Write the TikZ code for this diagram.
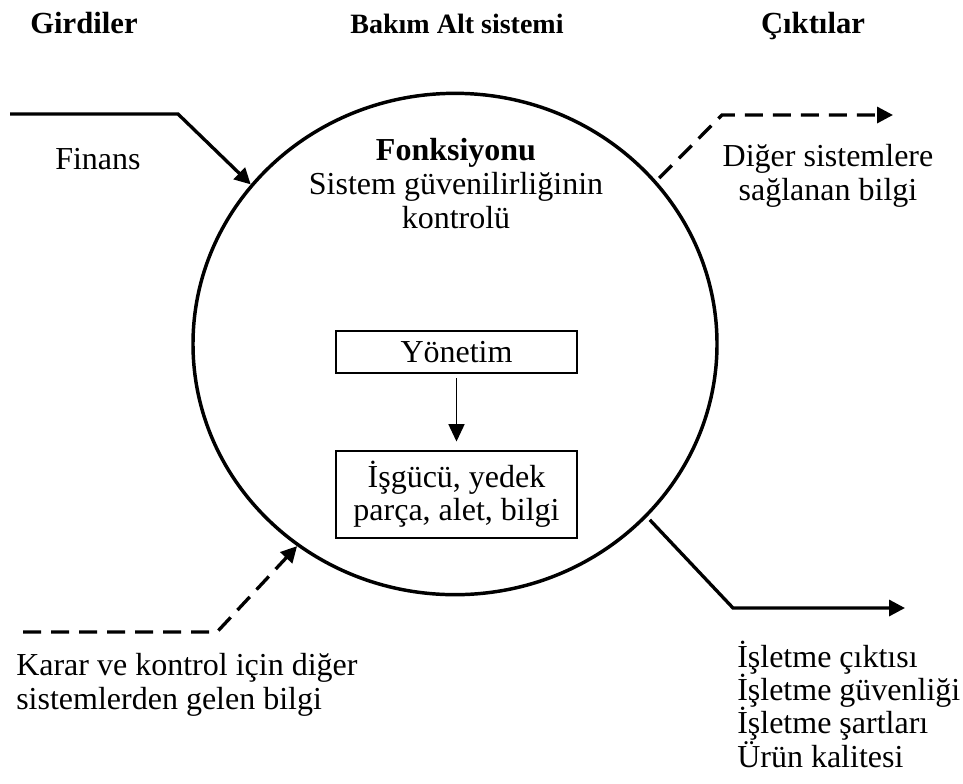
\documentclass[tikz,border=0pt]{standalone}
\usepackage{fontspec}
\setmainfont{Liberation Serif}
\usetikzlibrary{arrows.meta,shapes.geometric}
\begin{document}
\begin{tikzpicture}[x=0.75pt,y=-0.75pt,
  body/.style={font=\fontsize{24pt}{25.5pt}\selectfont, inner sep=0pt},
  head/.style={font=\fontsize{23pt}{26pt}\selectfont\bfseries, inner sep=0pt, anchor=base},
  flow/.style={line width=2.5pt, -{Triangle[length=12pt,width=12pt]}},
  flowdash/.style={flow, dash pattern=on 13.5pt off 7.5pt},
  boxnode/.style={draw, line width=1.2pt, minimum width=180.75pt, inner sep=0pt,
    font=\fontsize{24pt}{25pt}\selectfont, align=center},
  link/.style={line width=1.1pt, -{Triangle[length=13pt,width=12pt]}}]
\useasboundingbox (0,0) rectangle (963,783);

% headings
\node[head] (in) at (84,33) {Girdiler};
\node[head, font=\fontsize{21pt}{24pt}\selectfont\bfseries] (title) at (457,33) {Bakım Alt sistemi};
\node[head] (out) at (813,33) {Çıktılar};

% the maintenance subsystem (multi-line texts sit on the baseline of their last line)
\node[ellipse, draw, line width=2.6pt, minimum width=393pt, minimum height=376pt, inner sep=0pt] (sys) at (455,344) {};
\node[body, font=\fontsize{24pt}{25.5pt}\selectfont\bfseries, anchor=base] (fn) at (456,160) {Fonksiyonu};
\node[body, align=center, anchor=base] (fnd) at (456,228) {Sistem güvenilirliğinin\\kontrolü};

\node[boxnode, minimum height=31.5pt] (mgmt) at (456.5,352) {Yönetim};
\node[boxnode, minimum height=65.25pt] (res) at (456.5,494.5) {İşgücü, yedek\\parça, alet, bilgi};
\draw[link, shorten <=3.5pt, shorten >=6.5pt] (mgmt) -- (res);

% inputs
\coordinate (finA) at (10,114);
\coordinate (finB) at (178,114);
\draw[flow] (finA) -- (finB) -- (sys.142);
\node[body, anchor=base west] (fin) at (55,169) {Finans};

\coordinate (fbA) at (23,632);
\coordinate (fbB) at (217,632);
\draw[flowdash] (fbA) -- (fbB) -- (sys.232);
\node[body, align=left, anchor=base west] (fbt) at (16,709) {Karar ve kontrol için diğer\\sistemlerden gelen bilgi};

% outputs
\coordinate (infoB) at (722,115);
\coordinate (infoC) at (893,115);
\draw[flowdash, shorten <=3pt] (sys.39) -- (infoB) -- (infoC);
\node[body, align=center, anchor=base] (infot) at (828,200) {Diğer sistemlere\\sağlanan bilgi};

\coordinate (opB) at (733,608);
\coordinate (opC) at (905,608);
\draw[flow, shorten <=3pt] (sys.-42) -- (opB) -- (opC);
\node[body, align=left, anchor=base west, font=\fontsize{24pt}{25pt}\selectfont] (opt) at (737,767) {İşletme çıktısı\\İşletme güvenliği\\İşletme şartları\\Ürün kalitesi};
\end{tikzpicture}
\end{document}
